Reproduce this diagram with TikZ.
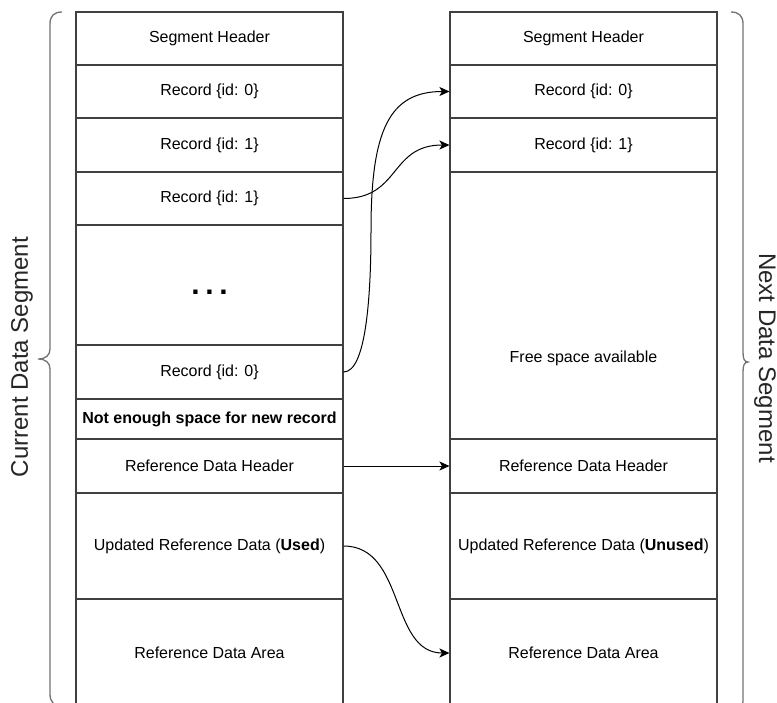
\documentclass[tikz,border=0pt]{standalone}
\usepackage{fontspec}
\setmainfont{Liberation Sans}
\usetikzlibrary{arrows.meta,calc}
\begin{document}
\begin{tikzpicture}[x=1pt,y=-1pt,
  cell/.style={draw=black!75, line width=1.1pt, minimum width=267pt, inner sep=0pt,
    font=\fontsize{16}{19}\selectfont, text=black},
  arr/.style={-{Stealth[length=10pt,width=9pt,inset=2.5pt]}, line width=1pt, black},
  bracestyle/.style={draw=black!55, line width=1.3pt},
  side/.style={font=\fontsize{24}{28}\selectfont, text=black!85, inner sep=0pt}]
\useasboundingbox (0,0) rectangle (777,702);
% left column
\node[cell, minimum height=53pt] (l1) at (209.5,38.5) {Segment Header};
\node[cell, minimum height=53pt] (l2) at (209.5,91.5) {Record \{id: 0\}};
\node[cell, minimum height=54pt] (l3) at (209.5,145) {Record \{id: 1\}};
\node[cell, minimum height=53pt] (l4) at (209.5,198.5) {Record \{id: 1\}};
\node[cell, minimum height=120pt] (l5) at (209.5,285) {};
\node[font=\fontsize{30}{30}\selectfont\bfseries, inner sep=0pt] (dots) at (209.5,292) {.\hspace{5.7pt}.\hspace{5.7pt}.};
\node[cell, minimum height=54pt] (l6) at (209.5,372) {Record \{id: 0\}};
\node[cell, minimum height=40pt, font=\fontsize{16}{19}\selectfont\bfseries] (l7) at (209.5,419) {Not enough space for new record};
\node[cell, minimum height=54pt] (l8) at (209.5,466) {Reference Data Header};
\node[cell, minimum height=106pt] (l9) at (209.5,546) {Updated Reference Data (\textbf{Used})};
\node[cell, minimum height=108pt] (l10) at (209.5,653) {Reference Data Area};
% right column
\node[cell, minimum height=53pt] (r1) at (583.5,38.5) {Segment Header};
\node[cell, minimum height=53pt] (r2) at (583.5,91.5) {Record \{id: 0\}};
\node[cell, minimum height=54pt] (r3) at (583.5,145) {Record \{id: 1\}};
\node[cell, minimum height=267pt] (r4) at (583.5,305.5) {};
\node[font=\fontsize{16}{19}\selectfont, inner sep=0pt] (free) at (583.5,358) {Free space available};
\node[cell, minimum height=54pt] (r5) at (583.5,466) {Reference Data Header};
\node[cell, minimum height=106pt] (r6) at (583.5,546) {Updated Reference Data (\textbf{Unused})};
\node[cell, minimum height=108pt] (r7) at (583.5,653) {Reference Data Area};
% connectors
\coordinate (m1) at (371,230);
\draw[arr] (l6.east) .. controls +(22,0) and +(0,70) .. (m1) .. controls +(0,-100) and +(-60,0) .. (r2.west);
\draw[arr] (l4.east) .. controls +(57,0) and +(-60,0) .. (r3.west);
\draw[arr] (l8.east) -- (r5.west);
\draw[arr] (l9.east) .. controls +(62,0) and +(-60,0) .. (r7.west);
% braces
\draw[bracestyle] (62,12) .. controls (54,12) and (50,16) .. (50,24) -- (50,349)
  .. controls (50,355) and (46,359) .. (38,359)
  .. controls (46,359) and (50,363) .. (50,369) -- (50,694)
  .. controls (50,702) and (54,706) .. (62,706);
\draw[bracestyle] (731,12) .. controls (739,12) and (743,16) .. (743,24) -- (743,352)
  .. controls (743,358) and (744,362) .. (748,362)
  .. controls (744,362) and (743,366) .. (743,372) -- (743,700)
  .. controls (743,708) and (739,712) .. (731,712);
\node[side, rotate=90] (cur) at (22,357) {Current Data Segment};
\node[side, rotate=-90] (nxt) at (765,358) {Next Data Segment};
\end{tikzpicture}
\end{document}
